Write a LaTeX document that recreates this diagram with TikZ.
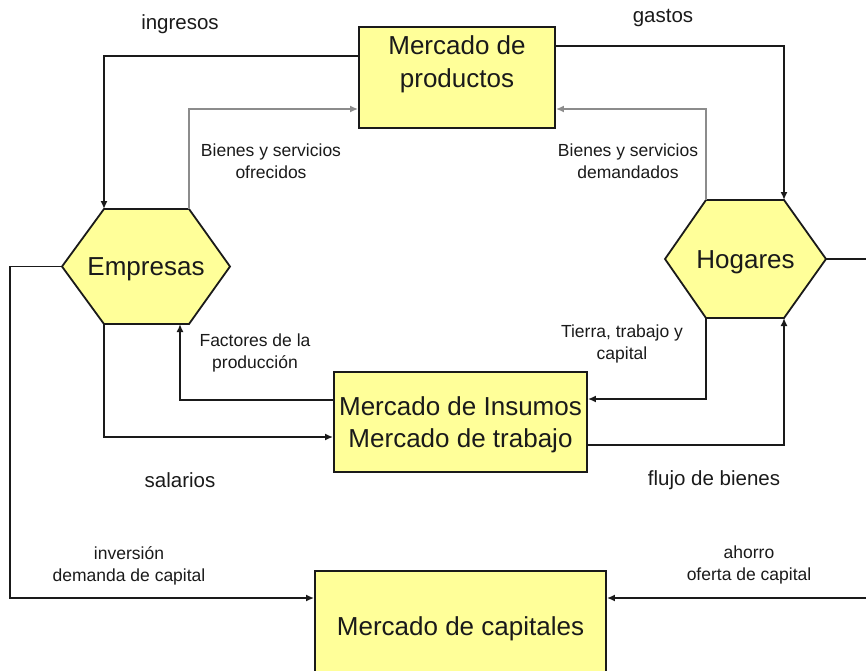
\documentclass[tikz,border=0pt]{standalone}
\usepackage{fontspec}
\setmainfont{Liberation Sans}
\usetikzlibrary{arrows.meta}
\definecolor{boxfill}{HTML}{FFFF99}
\definecolor{ink}{HTML}{1A1A1A}
\begin{document}
\begin{tikzpicture}[x=1pt,y=-1pt,
  box/.style={draw=ink, line width=1.8pt, fill=boxfill, inner sep=0pt},
  hexa/.style={draw=ink, line width=1.8pt, fill=boxfill},
  big/.style={font=\fontsize{26}{32}\selectfont, align=center, inner sep=0pt, text=ink},
  lab/.style={font=\fontsize{17.5}{22}\selectfont, align=center, inner sep=0pt, text=ink},
  flow/.style={font=\fontsize{20.5}{24}\selectfont, inner sep=0pt, text=ink},
  arr/.style={draw=ink, line width=1.7pt, -{Latex[length=8pt,width=7pt]}},
  garr/.style={draw=black!45, line width=2.4pt, -{Latex[length=8pt,width=7pt]}}]
\useasboundingbox (0,0) rectangle (866,670);
\clip (0,0) rectangle (866,670);

% boxes
\node[box, minimum width=196pt, minimum height=101pt] (prod) at (457,77.5) {};
\node[big, font=\fontsize{26}{33}\selectfont] (prodtxt) at (457,64.5) {Mercado de\\productos};
\node[box, minimum width=253pt, minimum height=100pt] (ins) at (460.5,422) {};
\node[big] (instxt) at (460.5,424.5) {Mercado de Insumos\\Mercado de trabajo};
\node[box, minimum width=291pt, minimum height=110pt] (cap) at (460.5,626) {};
\node[big] (captxt) at (460.5,628.5) {Mercado de capitales};

% hexagons
\coordinate (emp-tl) at (104,209);
\coordinate (emp-tr) at (189,209);
\coordinate (emp-r)  at (230,266.5);
\coordinate (emp-br) at (189,324);
\coordinate (emp-bl) at (104,324);
\coordinate (emp-l)  at (62,266.5);
\coordinate (emp-f)  at (180,324);
\path[hexa] (emp-tl) -- (emp-tr) -- (emp-r) -- (emp-br) -- (emp-bl) -- (emp-l) -- cycle;
\node[big] (emp) at (146,269) {Empresas};

\coordinate (hog-tl) at (706,200);
\coordinate (hog-tr) at (784,200);
\coordinate (hog-r)  at (826,259);
\coordinate (hog-br) at (784,318);
\coordinate (hog-bl) at (706,318);
\coordinate (hog-l)  at (665,259);
\path[hexa] (hog-tl) -- (hog-tr) -- (hog-r) -- (hog-br) -- (hog-bl) -- (hog-l) -- cycle;
\node[big] (hog) at (745.5,262) {Hogares};

% helper levels
\coordinate (y46) at (0,46);
\coordinate (y56) at (0,56);
\coordinate (y109) at (0,109);
\coordinate (y399) at (0,399);
\coordinate (y400) at (0,400);
\coordinate (y437) at (0,437);
\coordinate (y445) at (0,445);
\coordinate (y598) at (0,598);
\coordinate (lc) at (10,266.5);
\coordinate (rc) at (880,259);

% connectors
\draw[arr] (prod.west |- y56) -| (emp-tl);
\draw[garr] (emp-tr) |- (prod.west |- y109);
\draw[arr] (prod.east |- y46) -| (hog-tr);
\draw[garr] (hog-tl) |- (prod.east |- y109);
\draw[arr] (ins.west |- y400) -| (emp-f);
\draw[arr] (emp-bl) |- (ins.west |- y437);
\draw[arr] (hog-bl) |- (ins.east |- y399);
\draw[arr] (ins.east |- y445) -| (hog-br);
\draw[arr] (emp-l) -- (lc) |- (cap.west |- y598);
\draw[arr] (hog-r) -- (rc) |- (cap.east |- y598);

% labels
\node[flow] (l1) at (180,24) {ingresos};
\node[flow] (l2) at (663,18) {gastos};
\node[lab] (l3) at (271,161) {Bienes y servicios\\ofrecidos};
\node[lab] (l4) at (628,161) {Bienes y servicios\\demandados};
\node[lab] (l5) at (255,353) {Factores de la\\producción};
\node[lab] (l6) at (622,344) {Tierra, trabajo y\\capital};
\node[flow] (l7) at (180,480) {salarios};
\node[flow] (l8) at (714,480) {flujo de bienes};
\node[lab] (l9) at (129,565.5) {inversión\\demanda de capital};
\node[lab] (l10) at (749,564.5) {ahorro\\oferta de capital};
\end{tikzpicture}
\end{document}
